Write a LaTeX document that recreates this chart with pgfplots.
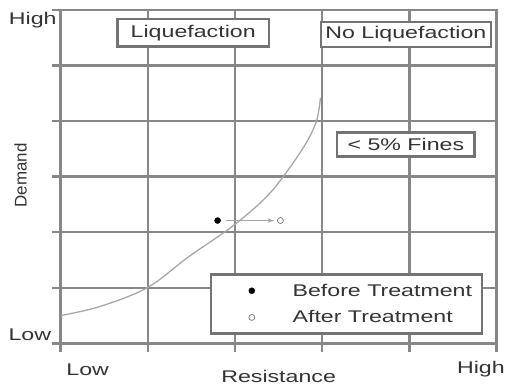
\documentclass[border=0pt]{standalone}
\usepackage{pgfplots}
\pgfplotsset{compat=1.18}
\usepackage{fontspec}
\setmainfont[FakeStretch=1.37]{Liberation Sans}
\newfontfamily\plainfont{Liberation Sans}
\definecolor{gridc}{gray}{0.53}
\definecolor{boxc}{gray}{0.45}
\definecolor{txt}{gray}{0.2}
\begin{document}
\begin{tikzpicture}[font=\fontsize{17}{20}\selectfont, text=txt]
\begin{axis}[
  at={(0,0)}, anchor=south west,
  scale only axis, width=438pt, height=335pt,
  xmin=0, xmax=5, ymin=0, ymax=6,
  xtick={0,1,2,3,4,5}, ytick={0,1,2,3,4,5,6},
  xticklabels={}, yticklabels={},
  tick align=outside, tick pos=left, major tick length=9pt,
  major tick style={gridc, line width=2.5pt},
  grid=major, major grid style={gridc, line width=2.5pt},
  axis line style={gridc, line width=2.5pt},
  clip=false,
  legend cell align=left,
  legend style={at={(axis cs:1.71,0.15)}, anchor=south west,
    draw=boxc, line width=2.5pt, fill=white,
    inner xsep=8pt, inner ysep=7.5pt, row sep=9pt,
    /tikz/every odd column/.append style={column sep=11pt}},
  legend image code/.code={\path[draw=none, fill=none] (0pt,-3pt) rectangle (61pt,3pt);
    \draw[mark repeat=2,mark phase=2,#1] plot coordinates {(0pt,0pt) (33pt,0pt) (66pt,0pt)};},
]
\addplot[forget plot, smooth, tension=0.55, gray!70, line width=1.3pt] coordinates {
  (0,0.50) (0.445,0.66) (0.993,1.0) (1.47,1.56) (1.99,2.13)
  (2.41,2.72) (2.77,3.49) (2.93,3.98) (2.98,4.42)};
\addplot[forget plot, gray!70, line width=1pt, -latex] coordinates {(1.90,2.21) (2.45,2.21)};
\addplot[only marks, mark=*, mark size=3pt, mark options={black, fill=black, line width=0.5pt}] coordinates {(1.80,2.21)};
\addlegendentry{Before Treatment}
\addplot[only marks, mark=o, mark size=3pt, mark options={gray, line width=0.8pt}] coordinates {(2.52,2.21)};
\addlegendentry{After Treatment}
\node[draw=boxc, line width=2.5pt, fill=white, minimum width=152pt, minimum height=28pt, inner sep=0pt] at (axis cs:1.52,5.59) {Liquefaction};
\node[draw=boxc, line width=2.5pt, fill=white, minimum width=171pt, minimum height=25pt, inner sep=0pt] at (axis cs:3.96,5.56) {No Liquefaction};
\node[draw=boxc, line width=2.5pt, fill=white, minimum width=138pt, minimum height=24pt, inner sep=0pt] at (axis cs:3.96,3.58) {\textless{} 5\% Fines\hspace{14pt}};
\node at (axis cs:-0.32,5.82) {High};
\node at (axis cs:-0.354,0.16) {Low};
\node at (axis cs:0.31,-0.47) {Low};
\node at (axis cs:4.82,-0.47) {High};
\node at (axis cs:2.5,-0.59) {Resistance};
\node[rotate=90] at (axis cs:-0.46,3.02) {\plainfont Demand};
\end{axis}
\path (-61pt,-41pt) rectangle (447pt,345pt);
\end{tikzpicture}
\end{document}
